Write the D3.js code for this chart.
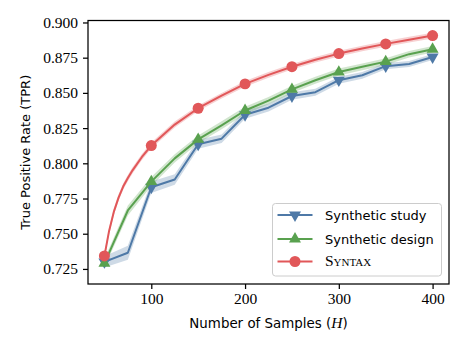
<!DOCTYPE html>
<html><head><meta charset="utf-8">
<script src="https://cdn.jsdelivr.net/npm/d3@7"></script>
<style>body{margin:0;background:#fff}svg{display:block}</style>
</head><body>
<svg id="c" width="467" height="350"></svg>
<script>
// ---- data ----
const xStep = [50,75,100,125,150,175,200,225,250,275,300,325,350,375,400];
const studyTPR = [0.7300,0.7365,0.7830,0.7885,0.8135,0.8175,0.8345,0.8395,0.8478,0.8505,0.8590,0.8625,0.8690,0.8705,0.8755];
const studyErr = [0.0040,0.0050,0.0040,0.0038,0.0032,0.0030,0.0028,0.0028,0.0026,0.0025,0.0025,0.0024,0.0023,0.0022,0.0022];
const designTPR = [0.7290,0.7665,0.7870,0.8035,0.8170,0.8270,0.8375,0.8445,0.8525,0.8590,0.8648,0.8685,0.8722,0.8775,0.8810];
const designErr = [0.0030,0.0035,0.0032,0.0030,0.0028,0.0028,0.0027,0.0026,0.0026,0.0025,0.0025,0.0024,0.0024,0.0023,0.0023];
const xSyntax = [50,55,60,65,70,75,80,90,100,125,150,175,200,225,250,275,300,325,350,375,400];
const syntaxTPR = [0.7342,0.7520,0.7655,0.7755,0.7835,0.7895,0.7950,0.8045,0.8126,0.8275,0.8391,0.8480,0.8564,0.8628,0.8686,0.8735,0.8779,0.8815,0.8848,0.8878,0.8907];
const syntaxErr = [0.0022,0.0023,0.0023,0.0023,0.0022,0.0022,0.0022,0.0021,0.0021,0.0021,0.0020,0.0020,0.0020,0.0020,0.0020,0.0020,0.0020,0.0020,0.0020,0.0020,0.0020];
const markerX = [50,100,150,200,250,300,350,400];
const xTicks = [100,200,300,400];
const yTicks = [0.725,0.750,0.775,0.800,0.825,0.850,0.875,0.900];
const seriesNames = ["Synthetic study","Synthetic design","Syntax"];

const series = [
  {name:seriesNames[0], x:xStep, y:studyTPR, e:studyErr, color:"#4e79a7", sym:"down"},
  {name:seriesNames[1], x:xStep, y:designTPR, e:designErr, color:"#59a14f", sym:"up"},
  {name:seriesNames[2], x:xSyntax, y:syntaxTPR, e:syntaxErr, color:"#e15759", sym:"circle"}
];

const svg = d3.select("#c");
const L=88, R=449, T=20.5, B=284;
const x = d3.scaleLinear().domain([32.5,417.5]).range([L,R]);
const y = d3.scaleLinear().domain([0.7143,0.9014]).range([B,T]);

const serif = "'Liberation Serif', 'DejaVu Serif', serif";
const sans = "'DejaVu Sans', 'Liberation Sans', sans-serif";

const g = svg.append("g");
svg.append("clipPath").attr("id","clp").append("rect").attr("x",L).attr("y",T).attr("width",R-L).attr("height",B-T);
const pg = g.append("g").attr("clip-path","url(#clp)");

function symPath(s){
  if(s==="circle") return d3.symbol(d3.symbolCircle, 95)();
  return d3.symbol(d3.symbolTriangle, 62)();
}

series.forEach(s=>{
  const pts = s.x.map((v,i)=>({x:v,y:s.y[i],e:s.e[i]}));
  pg.append("path").datum(pts)
    .attr("d", d3.area().x(d=>x(d.x)).y0(d=>y(d.y-d.e)).y1(d=>y(d.y+d.e)))
    .attr("fill", s.color).attr("fill-opacity",0.28).attr("stroke","none");
});
series.forEach(s=>{
  const pts = s.x.map((v,i)=>({x:v,y:s.y[i]}));
  pg.append("path").datum(pts)
    .attr("d", d3.line().x(d=>x(d.x)).y(d=>y(d.y)))
    .attr("fill","none").attr("stroke", s.color).attr("stroke-width",2).attr("stroke-linejoin","round");
  const mk = pts.filter(d=>markerX.includes(d.x));
  pg.selectAll(null).data(mk).enter().append("path")
    .attr("d", symPath(s.sym))
    .attr("transform", d=>`translate(${x(d.x)},${y(d.y)})${s.sym==="down"?" rotate(180)":""}`)
    .attr("fill", s.color);
});

// frame
g.append("rect").attr("x",L).attr("y",T).attr("width",R-L).attr("height",B-T)
  .attr("fill","none").attr("stroke","#000").attr("stroke-width",1.25);

// axes
const xa = g.append("g").attr("transform",`translate(0,${B})`)
  .call(d3.axisBottom(x).tickValues(xTicks).tickSize(5).tickPadding(4).tickFormat(d3.format("d")));
const ya = g.append("g").attr("transform",`translate(${L},0)`)
  .call(d3.axisLeft(y).tickValues(yTicks).tickSize(5).tickPadding(5).tickFormat(d3.format(".3f")));
[xa,ya].forEach(a=>{
  a.select(".domain").remove();
  a.selectAll("line").attr("stroke","#000").attr("stroke-width",1.25);
  a.selectAll("text").attr("font-family",serif).attr("font-size",15.5).attr("fill","#000");
});

// axis labels
g.append("text").attr("x",(L+R)/2).attr("y",328).attr("text-anchor","middle")
  .attr("font-family",sans).attr("font-size",13.4).attr("fill","#000")
  .html('Number of Samples (<tspan font-family="Liberation Serif" font-style="italic" font-size="15.5">H</tspan>)');
g.append("text").attr("transform",`translate(30,${(T+B)/2}) rotate(-90)`).attr("text-anchor","middle")
  .attr("font-family",sans).attr("font-size",13).attr("fill","#000")
  .text("True Positive Rate (TPR)");

// legend
const lg = g.append("g");
lg.append("rect").attr("x",272.5).attr("y",203.5).attr("width",169).attr("height",72.5)
  .attr("rx",3).attr("fill","#fff").attr("fill-opacity",0.8).attr("stroke","#ccc").attr("stroke-width",1);
const rowsY = [215,239,261.5];
series.forEach((s,i)=>{
  const ry = rowsY[i];
  lg.append("line").attr("x1",277.5).attr("x2",312.5).attr("y1",ry).attr("y2",ry)
    .attr("stroke",s.color).attr("stroke-width",2);
  lg.append("path").attr("d",symPath(s.sym))
    .attr("transform",`translate(295,${ry})${s.sym==="down"?" rotate(180)":""}`).attr("fill",s.color);
  const t = lg.append("text").attr("x",325).attr("y",ry+4.5).attr("fill","#000");
  if(i<2){
    t.attr("font-family",sans).attr("font-size",13).text(s.name);
  } else {
    t.attr("font-family",serif).attr("font-size",15.5).style("font-variant","small-caps").text(s.name);
  }
});
</script>
</body></html>
